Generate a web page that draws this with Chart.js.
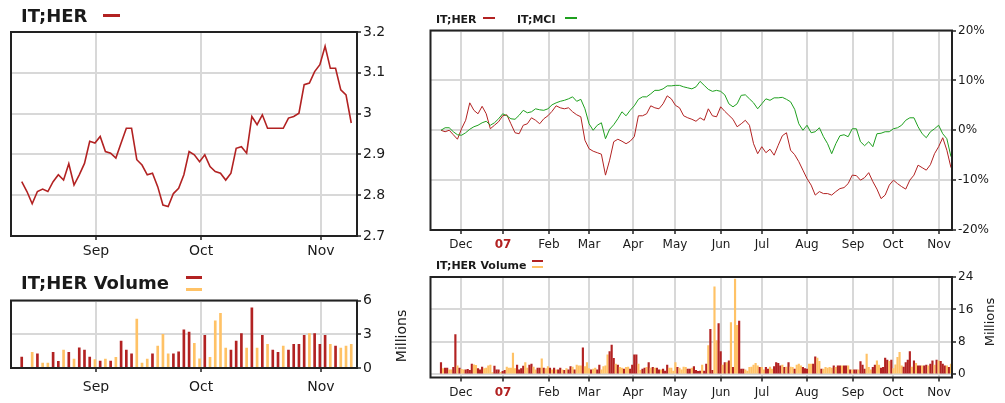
<!DOCTYPE html>
<html>
<head>
<meta charset="utf-8">
<script src="https://cdn.jsdelivr.net/npm/chart.js@4.4.1/dist/chart.umd.min.js"></script>
<style>
  body { margin: 0; background: #fff; }
  #wrap { position: relative; width: 1005px; height: 403px; overflow: hidden; font-family: "DejaVu Sans", sans-serif; color: #1a1a1a; }
  #wrap canvas { position: absolute; left: 0; top: 0; }
  .ttl { position: absolute; font-weight: bold; white-space: nowrap; line-height: 1; }
  .dash { position: absolute; height: 3px; }
  .mil { position: absolute; width: 80px; height: 16px; line-height: 16px; text-align: center; transform: rotate(-90deg); white-space: nowrap; }
</style>
</head>
<body>
<div id="wrap">
  <canvas id="cPrice" width="1005" height="403"></canvas>
  <canvas id="cVol" width="1005" height="403"></canvas>
  <canvas id="cPct" width="1005" height="403"></canvas>
  <canvas id="cVolY" width="1005" height="403"></canvas>

  <div class="ttl" style="left:21px;top:6.5px;font-size:18px">IT;HER</div>
  <div class="dash" style="left:103px;top:14px;width:17px;background:#b22222"></div>

  <div class="ttl" style="left:21px;top:274px;font-size:18px">IT;HER Volume</div>
  <div class="dash" style="left:186px;top:275.5px;width:16px;background:#b22222"></div>
  <div class="dash" style="left:186px;top:287.5px;width:16px;background:#ffc266"></div>
  <div class="mil" style="left:361px;top:328px;font-size:14px">Millions</div>

  <div class="ttl" style="left:436px;top:13.5px;font-size:11px">IT;HER</div>
  <div class="dash" style="left:483px;top:17px;width:12px;height:2px;background:#b22222"></div>
  <div class="ttl" style="left:517px;top:13.5px;font-size:11px">IT;MCI</div>
  <div class="dash" style="left:565px;top:17px;width:12px;height:2px;background:#1fa01f"></div>

  <div class="ttl" style="left:436px;top:260px;font-size:11px">IT;HER Volume</div>
  <div class="dash" style="left:532px;top:260px;width:11px;height:2px;background:#b22222"></div>
  <div class="dash" style="left:532px;top:266px;width:11px;height:2px;background:#ffc266"></div>
  <div class="mil" style="left:950px;top:314px;font-size:13px">Millions</div>
</div>
<script>
// left side: last 3 months, one value per trading day
var herPrice = [2.833, 2.809, 2.779, 2.809, 2.815, 2.809, 2.833, 2.850, 2.837, 2.877,
  2.825, 2.850, 2.878, 2.932, 2.928, 2.944, 2.907, 2.903, 2.891, 2.928,
  2.964, 2.964, 2.887, 2.874, 2.850, 2.854, 2.821, 2.776, 2.772, 2.804,
  2.817, 2.850, 2.907, 2.899, 2.882, 2.899, 2.870, 2.858, 2.854, 2.837,
  2.854, 2.915, 2.919, 2.903, 2.993, 2.973, 2.997, 2.964, 2.964, 2.964,
  2.964, 2.989, 2.993, 3.001, 3.071, 3.075, 3.103, 3.120, 3.165, 3.111,
  3.111, 3.058, 3.046, 2.977]
var herVol = [0.97, null, 1.4, 1.26, 0.44, 0.44, 1.4, 0.6, 1.6, 1.4,
  0.8, 1.8, 1.6, 0.97, 0.74, 0.62, 0.8, 0.62, 0.94, 2.4,
  1.6, 1.26, 4.35, 0.44, 0.8, 1.26, 1.94, 3.0, 1.26, 1.26,
  1.44, 3.4, 3.2, 2.2, 0.82, 2.9, 0.94, 4.2, 4.85, 1.76,
  1.6, 2.4, 3.06, 1.76, 5.35, 1.76, 2.9, 2.1, 1.6, 1.4,
  1.94, 1.6, 2.1, 2.1, 2.9, 3.06, 3.06, 2.1, 2.9, 2.1,
  1.94, 1.76, 1.94, 2.1]
// 1 = up day (red), 0 = down day (orange)
var herVolUp = [1, 0, 0, 1, 0, 0, 1, 1, 0, 1,
  0, 1, 1, 1, 0, 1, 0, 1, 0, 1,
  1, 1, 0, 0, 0, 1, 0, 0, 0, 1,
  1, 1, 1, 0, 0, 1, 0, 0, 0, 0,
  1, 1, 1, 0, 1, 0, 1, 0, 1, 1,
  0, 1, 1, 1, 1, 0, 1, 1, 1, 0,
  1, 0, 0, 0]
var shortTickPos = [14.2, 34.3, 57.2]
var shortTickLbl = ['Sep', 'Oct', 'Nov']
var priceTicks = [2.7, 2.8, 2.9, 3, 3.1, 3.2]
var volTicksShort = [0, 3, 6]

// right side: one year, % change read every 2nd trading day
var herPct = [0.0, -0.3, 0.0, -0.9, -1.8, 0.3, 2.0, 5.5, 4.0, 3.3,
  4.8, 3.3, 0.3, 1.0, 1.7, 2.9, 3.1, 1.3, -0.5, -0.7,
  1.0, 1.3, 2.5, 2.0, 1.3, 2.3, 2.9, 3.8, 4.9, 4.5,
  4.3, 4.5, 3.7, 3.1, 2.7, -2.0, -3.7, -4.2, -4.5, -4.8,
  -9.0, -6.0, -2.3, -1.8, -2.2, -2.7, -2.2, -1.3, 2.9, 2.9,
  3.3, 4.9, 4.5, 4.3, 5.3, 6.9, 6.3, 5.0, 4.5, 2.9,
  2.5, 2.2, 1.8, 2.5, 2.0, 4.3, 2.9, 2.7, 4.7, 3.8,
  3.0, 2.2, 0.7, 1.3, 2.0, 1.0, -2.7, -4.7, -3.3, -4.5,
  -3.8, -5.0, -3.0, -1.1, -0.5, -4.0, -4.9, -6.3, -8.0, -9.7,
  -11.0, -13.0, -12.3, -12.7, -12.7, -13.0, -12.3, -11.7, -11.5, -10.7,
  -9.0, -9.1, -10.0, -9.5, -8.5, -10.3, -11.8, -13.7, -13.0, -11.0,
  -10.0, -10.7, -11.3, -11.8, -10.0, -9.0, -7.0, -7.5, -8.0, -6.9,
  -4.7, -3.3, -1.5, -4.0, -7.5]
var mciPct = [0.0, 0.5, 0.5, -0.3, -0.9, -1.0, -0.5, 0.2, 0.7, 1.0,
  1.5, 1.8, 1.0, 1.5, 2.3, 3.3, 2.9, 2.3, 2.2, 3.0,
  4.0, 3.5, 3.7, 4.3, 4.1, 4.0, 4.3, 5.1, 5.5, 5.8,
  6.0, 6.3, 6.7, 5.8, 6.2, 4.3, 1.3, 0.0, 1.0, 1.5,
  -1.7, 0.2, 1.1, 2.3, 3.7, 2.9, 4.0, 4.9, 6.2, 6.7,
  6.7, 7.3, 8.0, 8.0, 8.3, 8.9, 8.9, 9.0, 9.0, 8.7,
  8.5, 8.3, 8.7, 9.8, 9.0, 8.2, 7.8, 8.0, 7.8, 7.1,
  5.3, 4.7, 5.3, 7.0, 7.1, 6.3, 5.5, 4.3, 5.3, 6.3,
  6.0, 6.5, 6.5, 6.6, 6.2, 5.7, 4.2, 1.3, 0.0, 1.0,
  -0.5, -0.3, 0.5, -1.3, -2.7, -4.7, -2.7, -1.1, -0.9, -1.3,
  0.3, 0.3, -2.3, -3.1, -2.3, -3.3, -0.7, -0.6, -0.3, -0.3,
  0.3, 0.5, 1.0, 2.0, 2.5, 2.5, 0.7, -0.7, -1.5, -0.3,
  0.3, 1.0, -0.7, -1.7, -5.3]
// daily volume, millions
var herVolYear = [2.9, 1.4, 1.5, 1.5, 1.1, 1.1, 1.7, 9.8, 2.1, 1.5,
  1.2, 1.1, 1.1, 1.2, 1.0, 2.5, 2.3, 2.2, 1.4, 1.1,
  1.8, 1.4, 1.5, 2.1, 2.25, 0.4, 2.0, 1.1, 1.1, 0.5,
  0.7, 1.0, 1.8, 1.5, 1.5, 5.25, 1.4, 2.25, 1.1, 1.4,
  2.0, 2.9, 1.5, 2.25, 2.5, 1.8, 1.1, 1.5, 1.5, 3.8,
  1.5, 1.4, 1.9, 1.5, 1.1, 1.5, 1.1, 1.1, 1.5, 1.1,
  1.0, 1.4, 1.1, 1.9, 1.8, 1.1, 2.25, 2.1, 2.1, 6.5,
  1.9, 2.9, 1.4, 1.1, 1.25, 1.5, 1.1, 2.25, 1.1, 1.9,
  2.1, 4.8, 5.6, 7.2, 3.9, 2.5, 2.25, 1.7, 1.5, 1.25,
  1.7, 1.8, 1.25, 2.25, 4.8, 4.8, 2.5, 1.0, 1.25, 1.5,
  1.7, 2.9, 1.5, 1.7, 1.5, 1.5, 1.1, 1.1, 1.25, 0.8,
  2.25, 1.5, 1.5, 0.8, 2.9, 1.7, 1.5, 1.1, 1.8, 1.7,
  1.25, 1.25, 1.5, 1.9, 1.0, 0.7, 0.8, 2.25, 0.8, 2.5,
  7.1, 11.1, 1.0, 21.6, 8.3, 12.5, 5.6, 2.25, 2.9, 2.9,
  3.3, 12.75, 1.7, 23.5, 12.1, 13.1, 1.25, 1.25, 1.1, 0.8,
  1.7, 1.8, 2.25, 2.7, 2.1, 1.7, 1.7, 1.1, 1.7, 1.3,
  1.8, 1.25, 1.9, 2.9, 2.7, 2.1, 2.25, 1.7, 1.8, 2.9,
  1.8, 1.7, 1.25, 2.25, 2.5, 2.1, 1.7, 1.4, 1.25, 2.5,
  2.5, 2.5, 4.3, 4.0, 3.2, 1.3, 1.3, 1.7, 1.5, 1.7,
  1.5, 2.1, 1.7, 2.1, 2.1, 2.1, 2.1, 2.1, 2.1, 1.1,
  1.1, 1.1, 1.1, 1.1, 3.1, 2.25, 1.25, 5.0, 1.7, 1.1,
  1.7, 2.25, 3.3, 2.25, 1.5, 1.7, 4.0, 3.5, 3.2, 3.5,
  1.4, 2.3, 4.2, 5.4, 2.1, 1.8, 2.9, 3.5, 5.6, 1.8,
  3.3, 2.7, 2.1, 2.1, 2.1, 2.1, 2.25, 2.1, 2.5, 3.3,
  2.25, 3.5, 3.3, 3.2, 2.5, 2.1, 2.1, 1.7, 2.5]
var herVolYearUp = [1, 0, 1, 1, 0, 0, 1, 1, 0, 1,
  0, 0, 1, 1, 1, 1, 0, 0, 1, 1,
  1, 0, 0, 0, 0, 0, 1, 1, 1, 0,
  1, 1, 0, 0, 0, 0, 0, 1, 1, 1,
  1, 0, 0, 1, 1, 0, 0, 1, 1, 0,
  1, 0, 0, 1, 0, 1, 0, 1, 1, 0,
  1, 0, 1, 1, 0, 1, 0, 0, 0, 1,
  0, 0, 0, 1, 0, 0, 1, 1, 0, 0,
  0, 0, 1, 1, 1, 0, 1, 0, 0, 1,
  0, 0, 1, 1, 1, 1, 0, 0, 1, 1,
  0, 1, 0, 1, 0, 1, 1, 0, 1, 1,
  1, 0, 0, 0, 0, 1, 0, 0, 0, 0,
  1, 1, 0, 1, 1, 1, 1, 0, 1, 1,
  0, 1, 1, 0, 0, 1, 1, 0, 1, 0,
  1, 0, 1, 0, 0, 1, 1, 1, 0, 0,
  0, 0, 0, 0, 0, 1, 0, 0, 1, 1,
  0, 0, 1, 1, 1, 1, 0, 1, 0, 1,
  0, 0, 1, 0, 0, 0, 1, 1, 1, 0,
  0, 1, 1, 0, 0, 1, 0, 0, 0, 0,
  0, 1, 0, 1, 1, 0, 1, 1, 0, 1,
  0, 1, 1, 0, 1, 1, 1, 0, 0, 0,
  1, 1, 0, 0, 1, 1, 1, 1, 0, 1,
  0, 0, 0, 0, 0, 1, 1, 1, 1, 0,
  1, 0, 1, 1, 0, 1, 1, 0, 1, 1,
  0, 1, 0, 1, 1, 1, 0, 1, 0]
var yearTickPos = [9.7, 30.2, 52.5, 72.0, 93.4, 113.8, 136.2, 156.1, 178.0, 200.4, 219.8, 242.2]
var yearTickLbl = ['Dec', '07', 'Feb', 'Mar', 'Apr', 'May', 'Jun', 'Jul', 'Aug', 'Sep', 'Oct', 'Nov']
var pctTicks = [-20, -10, 0, 10, 20]
var volTicksYear = [0, 8, 16, 24]

var RED = '#b22222', ORANGE = '#ffc266', GREEN = '#1fa01f', GRID = '#d8d8d8', INK = '#1a1a1a'

Chart.defaults.font.family = 'DejaVu Sans'
Chart.defaults.color = INK

var framePlugin = {
  id: 'frame',
  afterDatasetsDraw(chart) {
    var a = chart.chartArea, c = chart.ctx
    c.save()
    c.strokeStyle = '#222'
    c.lineWidth = 2
    c.strokeRect(a.left, a.top, a.right - a.left, a.bottom - a.top)
    c.restore()
  }
}

function xAxis(min, max, pos, lbl, size, isYear, pad) {
  return {
    type: 'linear', min: min, max: max, bounds: 'data', offset: false,
    afterBuildTicks: s => { s.ticks = pos.map(v => ({value: v})) },
    afterFit: s => { s.height = 25; s.paddingLeft = 0; s.paddingRight = 0 },
    grid: { offset: false, color: GRID, lineWidth: 2, tickLength: 4, tickColor: '#222', tickWidth: 1.5 },
    border: { display: false },
    ticks: {
      autoSkip: false, maxRotation: 0, padding: pad,
      color: ctx => (isYear && ctx.index == 1) ? RED : INK,
      font: ctx => ({ size: size, weight: (isYear && ctx.index == 1) ? 'bold' : 'normal' }),
      callback: (v, i) => lbl[i]
    }
  }
}

function yAxis(min, max, ticksArr, fmt, size) {
  return {
    position: 'right', min: min, max: max, bounds: 'data',
    afterBuildTicks: s => { s.ticks = ticksArr.map(v => ({value: v})) },
    afterFit: s => { s.width = 40; s.paddingTop = 0; s.paddingBottom = 0 },
    grid: { color: GRID, lineWidth: 2, tickLength: 4, tickColor: '#222', tickWidth: 1.5 },
    border: { display: false },
    ticks: { padding: 2, font: { size: size }, callback: fmt }
  }
}

function baseOptions(pad, xs, ys) {
  return {
    responsive: false, animation: false, devicePixelRatio: 1,
    layout: { padding: pad },
    plugins: { legend: { display: false }, tooltip: { enabled: false } },
    scales: { x: xs, y: ys }
  }
}

new Chart(document.getElementById('cPrice'), {
  type: 'line',
  data: { datasets: [{
    data: herPrice.map((v, j) => ({x: j, y: v})),
    borderColor: RED, borderWidth: 1.6, pointRadius: 0, tension: 0
  }]},
  options: baseOptions({left: 11, top: 32, right: 608, bottom: 142},
    xAxis(-2.05, 64.1, shortTickPos, shortTickLbl, 14, false, 3),
    yAxis(2.7, 3.2, priceTicks, v => String(+v.toFixed(1)), 14)),
  plugins: [framePlugin]
})

new Chart(document.getElementById('cVol'), {
  type: 'bar',
  data: { datasets: [{
    data: herVol.map((v, j) => ({x: j, y: v})),
    backgroundColor: herVolUp.map(u => u ? RED : ORANGE),
    barThickness: 2
  }]},
  options: baseOptions({left: 11, top: 300.5, right: 608, bottom: 10},
    xAxis(-2.05, 64.1, shortTickPos, shortTickLbl, 14, false, 7),
    yAxis(0, 6, volTicksShort, v => String(v), 14)),
  plugins: [framePlugin]
})

new Chart(document.getElementById('cPct'), {
  type: 'line',
  data: { datasets: [
    { data: mciPct.map((v, k) => ({x: k * 2, y: v})), borderColor: GREEN, borderWidth: 1, pointRadius: 0, tension: 0 },
    { data: herPct.map((v, k) => ({x: k * 2, y: v})), borderColor: RED, borderWidth: 1, pointRadius: 0, tension: 0 }
  ]},
  options: baseOptions({left: 430.5, top: 30.5, right: 13, bottom: 148},
    xAxis(-5.1, 248.5, yearTickPos, yearTickLbl, 12, true, 4),
    yAxis(-20, 20, pctTicks, v => v + '%', 12)),
  plugins: [framePlugin]
})

new Chart(document.getElementById('cVolY'), {
  type: 'bar',
  data: { datasets: [{
    data: herVolYear.map((v, i) => ({x: i, y: v})),
    backgroundColor: herVolYearUp.map(u => u ? RED : ORANGE),
    barThickness: 1.5
  }]},
  options: baseOptions({left: 430.5, top: 277, right: 13, bottom: 0.5},
    xAxis(-5.1, 248.5, yearTickPos, yearTickLbl, 12, true, 4),
    yAxis(-0.8, 24, volTicksYear, v => String(v), 12)),
  plugins: [framePlugin]
})
</script>
</body>
</html>
